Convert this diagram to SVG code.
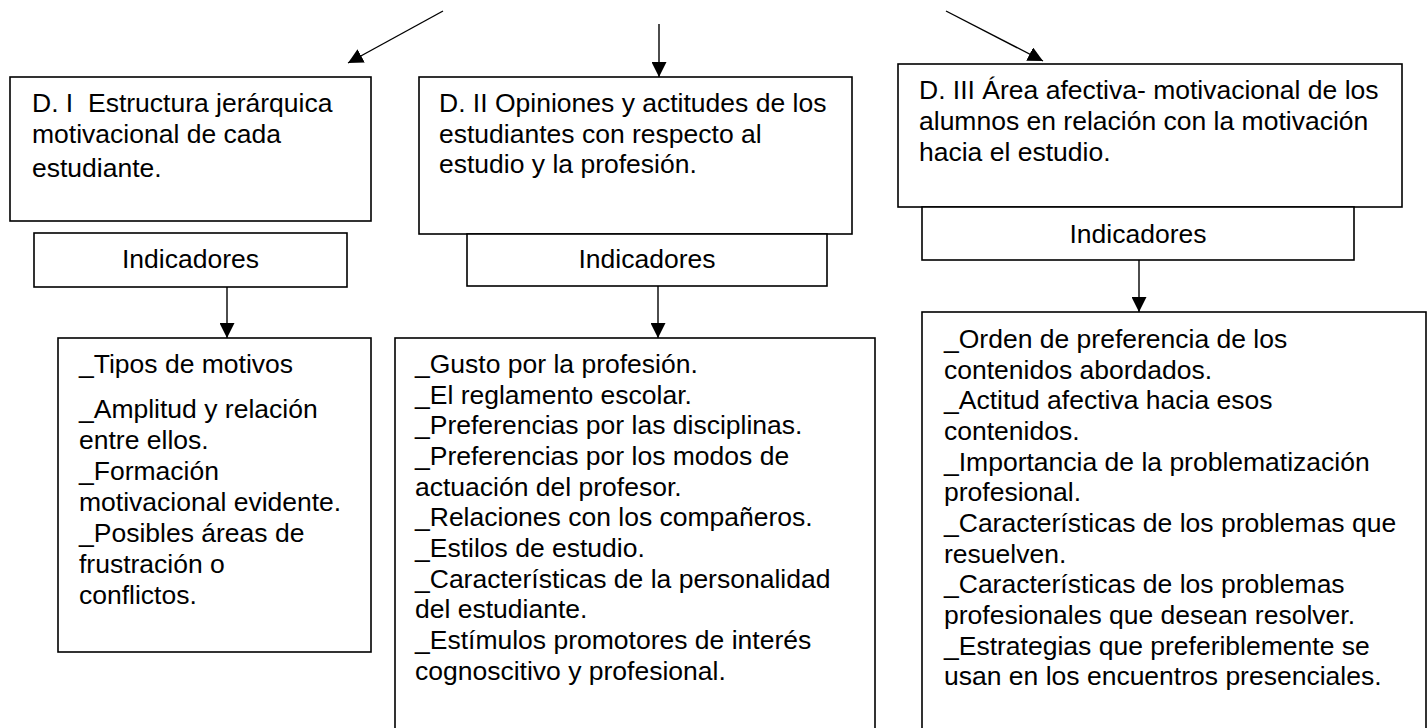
<svg xmlns="http://www.w3.org/2000/svg" width="1428" height="728" viewBox="0 0 1428 728">
<style>
  .box { fill: #ffffff; stroke: #000000; stroke-width: 1.6; }
  .conn { fill: none; stroke: #000000; stroke-width: 1.4; }
  text { font-family: "Liberation Sans", Arial, sans-serif; font-size: 26.5px; fill: #000000; }
  .c { text-anchor: middle; }
</style>
<defs>
  <marker id="ah" viewBox="0 0 15 15" refX="15" refY="7.5" markerWidth="15" markerHeight="15" markerUnits="userSpaceOnUse" orient="auto">
    <path d="M0,0 L15,7.5 L0,15 z" fill="#000000"/>
  </marker>
</defs>
<rect width="1428" height="728" fill="#ffffff"/>

<g id="connectors">
  <line class="conn" x1="443" y1="11" x2="348" y2="63" marker-end="url(#ah)"/>
  <line class="conn" x1="659" y1="24" x2="659" y2="77" marker-end="url(#ah)"/>
  <line class="conn" x1="946" y1="11" x2="1043" y2="61" marker-end="url(#ah)"/>
  <line class="conn" x1="227" y1="287" x2="227" y2="338" marker-end="url(#ah)"/>
  <line class="conn" x1="658" y1="286" x2="658" y2="338" marker-end="url(#ah)"/>
  <line class="conn" x1="1139" y1="260" x2="1139" y2="312" marker-end="url(#ah)"/>
</g>

<g id="d1">
  <rect class="box" x="10" y="77" width="361" height="144"/>
  <text x="32" y="112">D. I&#160; Estructura jerárquica</text>
  <text x="32" y="143">motivacional de cada</text>
  <text x="32" y="177">estudiante.</text>
</g>
<g id="ind1">
  <rect class="box" x="34" y="233" width="313" height="54"/>
  <text class="c" x="190.5" y="268">Indicadores</text>
</g>
<g id="list1">
  <rect class="box" x="58" y="338" width="313" height="314"/>
  <text x="79" y="373">_Tipos de motivos</text>
  <text x="79" y="418">_Amplitud y relación</text>
  <text x="79" y="449">entre ellos.</text>
  <text x="79" y="480">_Formación</text>
  <text x="79" y="511">motivacional evidente.</text>
  <text x="79" y="542">_Posibles áreas de</text>
  <text x="79" y="573">frustración o</text>
  <text x="79" y="604">conflictos.</text>
</g>

<g id="d2">
  <rect class="box" x="419" y="77" width="433" height="157"/>
  <text x="439" y="112">D. II Opiniones y actitudes de los</text>
  <text x="439" y="143">estudiantes con respecto al</text>
  <text x="439" y="173">estudio y la profesión.</text>
</g>
<g id="ind2">
  <rect class="box" x="467" y="234" width="360" height="52"/>
  <text class="c" x="647" y="268">Indicadores</text>
</g>
<g id="list2">
  <rect class="box" x="395" y="338" width="480" height="410"/>
  <text x="415" y="373">_Gusto por la profesión.</text>
  <text x="415" y="403.7">_El reglamento escolar.</text>
  <text x="415" y="434.3">_Preferencias por las disciplinas.</text>
  <text x="415" y="465">_Preferencias por los modos de</text>
  <text x="415" y="495.7">actuación del profesor.</text>
  <text x="415" y="526.3">_Relaciones con los compañeros.</text>
  <text x="415" y="557">_Estilos de estudio.</text>
  <text x="415" y="587.7">_Características de la personalidad</text>
  <text x="415" y="618.3">del estudiante.</text>
  <text x="415" y="649">_Estímulos promotores de interés</text>
  <text x="415" y="679.7">cognoscitivo y profesional.</text>
</g>

<g id="d3">
  <rect class="box" x="898" y="64" width="504" height="143"/>
  <text x="919" y="99">D. III Área afectiva- motivacional de los</text>
  <text x="919" y="130">alumnos en relación con la motivación</text>
  <text x="919" y="161">hacia el estudio.</text>
</g>
<g id="ind3">
  <rect class="box" x="922" y="207" width="432" height="53"/>
  <text class="c" x="1138" y="243">Indicadores</text>
</g>
<g id="list3">
  <rect class="box" x="922" y="312" width="504" height="436"/>
  <text x="944" y="348">_Orden de preferencia de los</text>
  <text x="944" y="378.7">contenidos abordados.</text>
  <text x="944" y="409.3">_Actitud afectiva hacia esos</text>
  <text x="944" y="440">contenidos.</text>
  <text x="944" y="470.7">_Importancia de la problematización</text>
  <text x="944" y="501.3">profesional.</text>
  <text x="944" y="532">_Características de los problemas que</text>
  <text x="944" y="562.7">resuelven.</text>
  <text x="944" y="593.3">_Características de los problemas</text>
  <text x="944" y="624">profesionales que desean resolver.</text>
  <text x="944" y="654.7">_Estrategias que preferiblemente se</text>
  <text x="944" y="685.3">usan en los encuentros presenciales.</text>
</g>
</svg>
